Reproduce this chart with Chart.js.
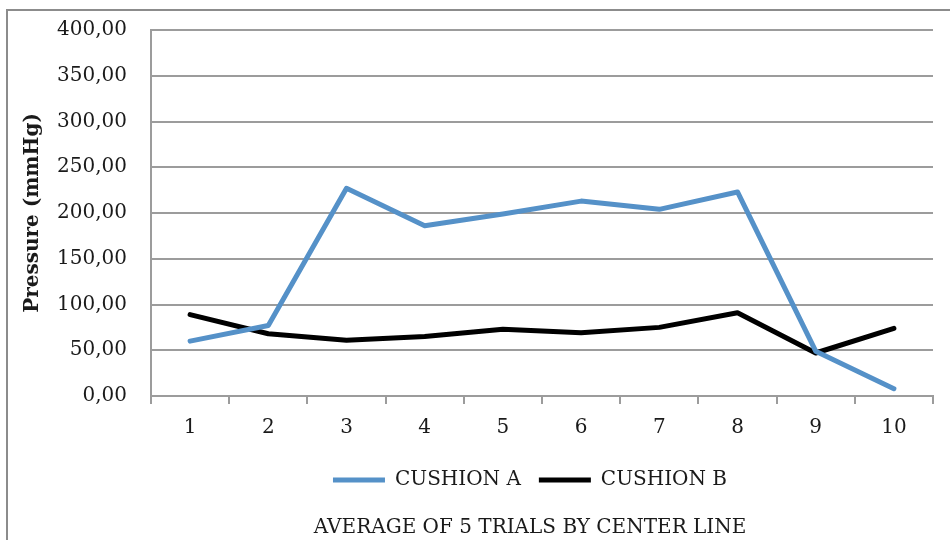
<!DOCTYPE html>
<html>
<head>
<meta charset="utf-8">
<script src="https://cdn.jsdelivr.net/npm/chart.js@4"></script>
<style>
  html, body { margin: 0; padding: 0; background: #fff; overflow: hidden; }
  #wrap { position: absolute; left: 0; top: 0; width: 950px; height: 540px; overflow: hidden; }
</style>
</head>
<body>
<div id="wrap">
  <canvas id="myChart" width="1060" height="540"></canvas>
</div>
<script>
// data
const categories = ["1", "2", "3", "4", "5", "6", "7", "8", "9", "10"];
const cushionA = [60, 77, 227, 186, 199, 213, 204, 223, 49, 8];
const cushionB = [89, 68, 61, 65, 73, 69, 75, 91, 47, 74];
const seriesNames = ["CUSHION A", "CUSHION B"];
const yMin = 0;
const yMax = 400;
const yStep = 50;
const yTitle = "Pressure (mmHg)";
const xTitle = "AVERAGE OF 5 TRIALS BY CENTER LINE";

const gridGray = "#9c9c9c";
const textColor = "#1a1a1a";

Chart.defaults.font.family = "'DejaVu Serif', serif";
Chart.defaults.font.size = 20;
Chart.defaults.color = textColor;

// grey frame round the whole chart (cut off on the right like the picture)
const frame = {
  id: "frame",
  beforeDraw(chart) {
    const ctx = chart.ctx;
    ctx.save();
    ctx.strokeStyle = "#8c8c8c";
    ctx.lineWidth = 2;
    ctx.strokeRect(7, 10, chart.width - 14, chart.height + 20);
    ctx.restore();
  }
};

const ctx = document.getElementById("myChart").getContext("2d");
new Chart(ctx, {
  type: "line",
  data: {
    labels: categories,
    datasets: [
      {
        label: seriesNames[0],
        data: cushionA,
        borderColor: "#5591c8",
        backgroundColor: "#5591c8",
        borderWidth: 5,
        pointRadius: 0,
        tension: 0,
        borderCapStyle: "round",
        borderJoinStyle: "round"
      },
      {
        label: seriesNames[1],
        data: cushionB,
        borderColor: "#000000",
        backgroundColor: "#000000",
        borderWidth: 5,
        pointRadius: 0,
        tension: 0,
        borderCapStyle: "round",
        borderJoinStyle: "round"
      }
    ]
  },
  options: {
    responsive: false,
    animation: false,
    layout: { padding: { left: 7, right: 7, top: 30, bottom: 0 } },
    plugins: {
      tooltip: { enabled: false },
      legend: {
        position: "bottom",
        labels: {
          usePointStyle: true,
          pointStyle: "line",
          pointStyleWidth: 52,
          boxHeight: 5,
          padding: 18,
          color: textColor,
          font: { size: 20 }
        }
      },
      title: {
        display: true,
        text: xTitle,
        position: "bottom",
        color: textColor,
        font: { size: 20, weight: "normal" },
        padding: { top: 16, bottom: 0 }
      }
    },
    scales: {
      x: {
        offset: true,
        grid: {
          offset: true,
          drawOnChartArea: false,
          drawTicks: true,
          tickLength: 8,
          color: gridGray,
          lineWidth: 2
        },
        border: { display: true, color: gridGray, width: 2 },
        ticks: { padding: 12, color: textColor, maxRotation: 0 }
      },
      y: {
        min: yMin,
        max: yMax,
        ticks: {
          stepSize: yStep,
          padding: 24,
          color: textColor,
          callback: v => v.toFixed(2).replace(".", ",")
        },
        grid: { color: gridGray, lineWidth: 2, drawTicks: false },
        border: { display: true, color: gridGray, width: 2 },
        title: {
          display: true,
          text: yTitle,
          color: textColor,
          font: { size: 20, weight: "bold" },
          padding: { top: 14, bottom: 0 }
        },
        afterFit: s => {
          s.width = 144;
          s.paddingTop = 0;
          s.paddingBottom = 0;
        }
      },
      // empty right-hand space of the original (cropped) chart
      yRight: {
        position: "right",
        display: true,
        min: yMin,
        max: yMax,
        ticks: { display: false },
        grid: { display: false },
        border: { display: false },
        afterFit: s => {
          s.width = 120;
          s.paddingTop = 0;
          s.paddingBottom = 0;
        }
      }
    }
  },
  plugins: [frame]
});
</script>
</body>
</html>
